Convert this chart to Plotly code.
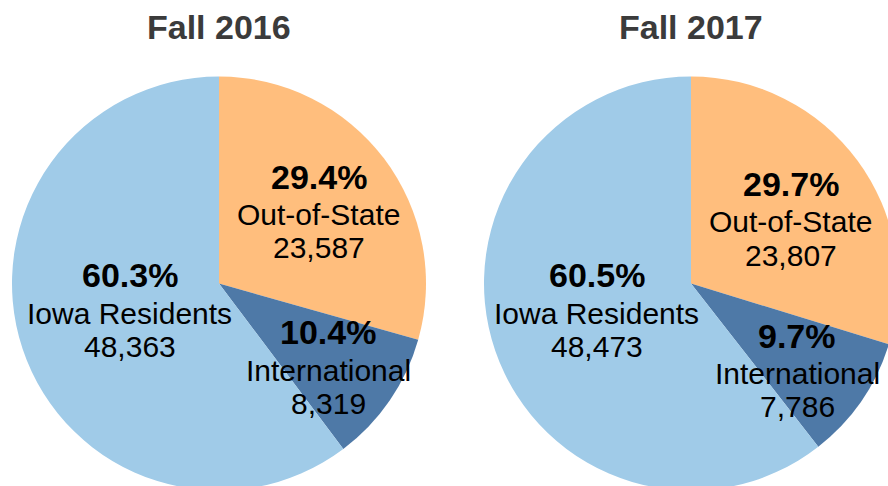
import plotly.graph_objects as go

# ---- data ----
years = ["Fall 2016", "Fall 2017"]
categories = ["Out-of-State", "International", "Iowa Residents"]
values_2016 = [23587, 8319, 48363]
values_2017 = [23807, 7786, 48473]
series = [values_2016, values_2017]

# ---- style / layout constants ----
colors = ["#FFBE7D", "#4E79A7", "#A0CBE8"]
FONT = "Arial, 'Liberation Sans', sans-serif"
W, H = 900, 492
R = 207
centers = [(219, 283.5), (691, 283.5)]
# label anchor offsets (px, relative to pie centre) of the bold first line
label_offsets = [
    [(99.5, -107), (109, 48.5), (-89.5, -8.5)],
    [(99.5, -99.5), (106, 52), (-94.5, -8.5)],
]
line_dy = [0, 38, 71]
title_y = 27
BOLD_SIZE = 34
NORM_SIZE = 30


def px_x(x):
    return x / W


def px_y(y):
    return 1 - y / H


fig = go.Figure()
annotations = []
for i, (year, vals) in enumerate(zip(years, series)):
    cx, cy = centers[i]
    fig.add_trace(go.Pie(
        labels=categories,
        values=vals,
        sort=False,
        direction="clockwise",
        rotation=0,
        marker=dict(colors=colors, line=dict(width=0)),
        textinfo="none",
        hoverinfo="label+value+percent",
        showlegend=False,
        domain=dict(x=[px_x(cx - R), px_x(cx + R)],
                    y=[px_y(cy + R), px_y(cy - R)]),
    ))
    annotations.append(dict(
        x=px_x(cx), y=px_y(title_y), xref="paper", yref="paper",
        text=f"<b>{year}</b>", showarrow=False,
        xanchor="center", yanchor="middle",
        font=dict(family=FONT, size=BOLD_SIZE, color="#3B3B3B"),
    ))
    total = sum(vals)
    for j, (cat, v) in enumerate(zip(categories, vals)):
        ox, oy = label_offsets[i][j]
        lx, ly = cx + ox, cy + oy
        lines = [
            (f"<b>{v / total * 100:.1f}%</b>", BOLD_SIZE),
            (cat, NORM_SIZE),
            (f"{v:,}", NORM_SIZE),
        ]
        for (txt, fs), dy in zip(lines, line_dy):
            annotations.append(dict(
                x=px_x(lx), y=px_y(ly + dy), xref="paper", yref="paper",
                text=txt, showarrow=False,
                xanchor="center", yanchor="middle",
                font=dict(family=FONT, size=fs, color="#000000"),
            ))

fig.update_layout(
    width=W, height=H,
    margin=dict(l=0, r=0, t=0, b=0),
    paper_bgcolor="white",
    plot_bgcolor="white",
    annotations=annotations,
)

fig.write_html(
    "out.html",
    config={"displayModeBar": False},
    post_script="document.body.style.margin='0';"
                "document.body.style.overflow='hidden';"
                "document.documentElement.style.overflow='hidden';",
)
